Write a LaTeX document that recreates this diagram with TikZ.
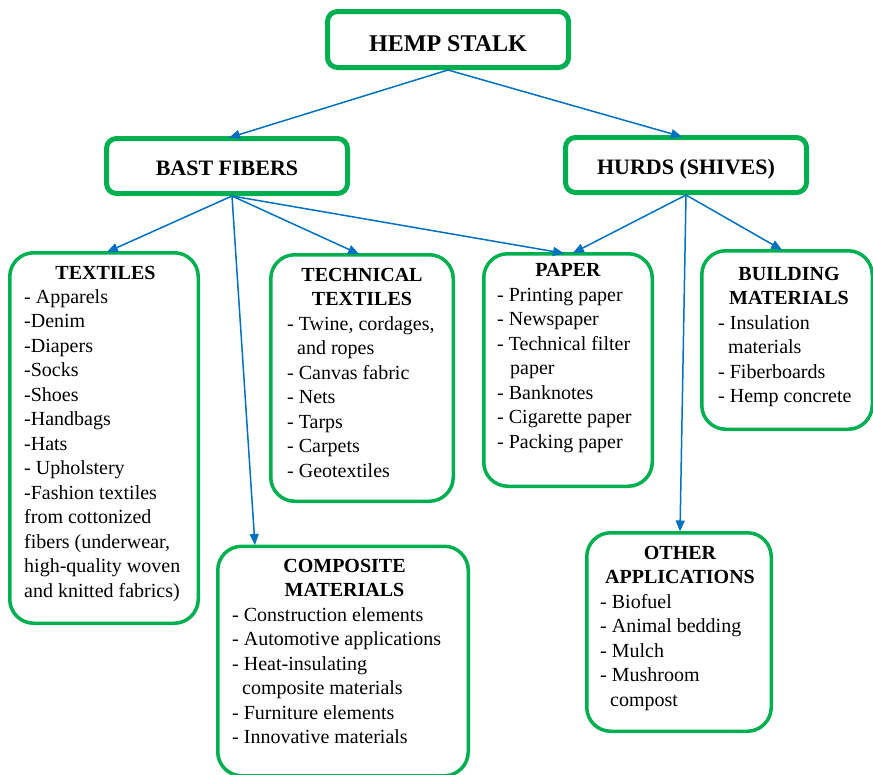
\documentclass[tikz,border=0pt]{standalone}
\usepackage{fontspec}
\setmainfont{Liberation Serif}
\usetikzlibrary{arrows.meta}
\definecolor{gr}{HTML}{00B050}
\definecolor{bl}{HTML}{0070C0}
\begin{document}
\begin{tikzpicture}[x=1pt,y=-1pt,
  topbox/.style={draw=gr, line width=5pt, rounded corners=10pt, fill=white, inner sep=0pt, text depth=0pt, font=\fontsize{22}{26}\selectfont\bfseries},
  catbox/.style={draw=gr, line width=3.5pt, rounded corners=24pt, inner sep=0pt},
  ttl/.style={anchor=north, align=center, inner sep=0pt, font=\fontsize{20}{24.5}\selectfont\bfseries},
  itm/.style={anchor=north west, align=left, inner sep=0pt, font=\fontsize{20}{24.5}\selectfont},
  arr/.style={draw=bl, line width=1.5pt, -{Triangle[length=11pt,width=9pt]}, shorten >=1pt}]
\useasboundingbox (0,0) rectangle (873,774);
% top level boxes
\node[topbox, minimum width=241pt, minimum height=56pt, text height=23pt, font=\fontsize{24}{28}\selectfont\bfseries] (hemp) at (448,39.5) {HEMP STALK};
\node[topbox, minimum width=241pt, minimum height=55pt, text height=19pt] (bast) at (227,166) {BAST FIBERS};
\node[topbox, minimum width=241pt, minimum height=55pt, text height=19pt] (hurds) at (686,165) {HURDS (SHIVES)};
% category boxes
\node[catbox, minimum width=188.5pt, minimum height=370.5pt] (tex) at (104,438) {};
\node[catbox, minimum width=182.5pt, minimum height=246.5pt] (tech) at (362,378) {};
\node[catbox, minimum width=168.5pt, minimum height=232.5pt] (pap) at (568,370) {};
\node[catbox, minimum width=170.5pt, minimum height=178.5pt] (bld) at (787,340) {};
\node[catbox, minimum width=250.5pt, minimum height=229.5pt] (comp) at (343,661) {};
\node[catbox, minimum width=184.5pt, minimum height=198.5pt] (oth) at (679,632) {};
% titles
\node[ttl] (texT) at (105.5,261.85) {\strut TEXTILES};
\node[ttl] (techT) at (362,263.85) {\strut TECHNICAL\\TEXTILES};
\node[ttl] (papT) at (568,258.85) {\strut PAPER};
\node[ttl] (bldT) at (789,262.85) {\strut BUILDING\\MATERIALS};
\node[ttl] (compT) at (344.5,554.85) {\strut COMPOSITE\\MATERIALS};
\node[ttl] (othT) at (680,541.85) {\strut OTHER\\APPLICATIONS};
% items
\node[itm] (texI) at (24,285.85) {\strut - Apparels\\-Denim\\-Diapers\\-Socks\\-Shoes\\-Handbags\\-Hats\\- Upholstery\\-Fashion textiles\\from cottonized\\fibers (underwear,\\high-quality woven\\and knitted fabrics)};
\node[itm] (techI) at (287,312.85) {\strut - Twine, cordages,\\\hspace*{10pt}and ropes\\- Canvas fabric\\- Nets\\- Tarps\\- Carpets\\- Geotextiles};
\node[itm] (papI) at (497,283.85) {\strut - Printing paper\\- Newspaper\\- Technical filter\\\hspace*{13pt}paper\\- Banknotes\\- Cigarette paper\\- Packing paper};
\node[itm] (bldI) at (718,311.85) {\strut - Insulation\\\hspace*{10pt}materials\\- Fiberboards\\- Hemp concrete};
\node[itm] (compI) at (232,603.85) {\strut - Construction elements\\- Automotive applications\\- Heat-insulating\\\hspace*{10pt}composite materials\\- Furniture elements\\- Innovative materials};
\node[itm] (othI) at (600,590.85) {\strut - Biofuel\\- Animal bedding\\- Mulch\\- Mushroom\\\hspace*{10pt}compost};
% connectors
\coordinate (bs) at ([xshift=5pt]bast.south);
\coordinate (hs) at (hurds.south);
\draw[arr] (hemp.south) -- ([xshift=1pt,yshift=-2pt]bast.north);
\draw[arr] (hemp.south) -- ([xshift=-3pt,yshift=-2pt]hurds.north);
\draw[arr] (bs) -- ([xshift=2pt,yshift=-1.5pt]tex.north);
\draw[arr] (bs) -- ([xshift=-2pt,yshift=-1.5pt]tech.north);
\draw[arr] (bs) -- ([xshift=-3pt,yshift=-1.5pt]pap.north);
\draw[arr] (bs) -- ([xshift=39pt,yshift=-1.5pt]comp.north west);
\draw[arr] (hs) -- ([xshift=4pt,yshift=-1.5pt]pap.north);
\draw[arr] (hs) -- ([xshift=-4pt,yshift=-1.5pt]bld.north);
\draw[arr] (hs) -- ([xshift=1pt,yshift=-1.5pt]oth.north);
\end{tikzpicture}
\end{document}
